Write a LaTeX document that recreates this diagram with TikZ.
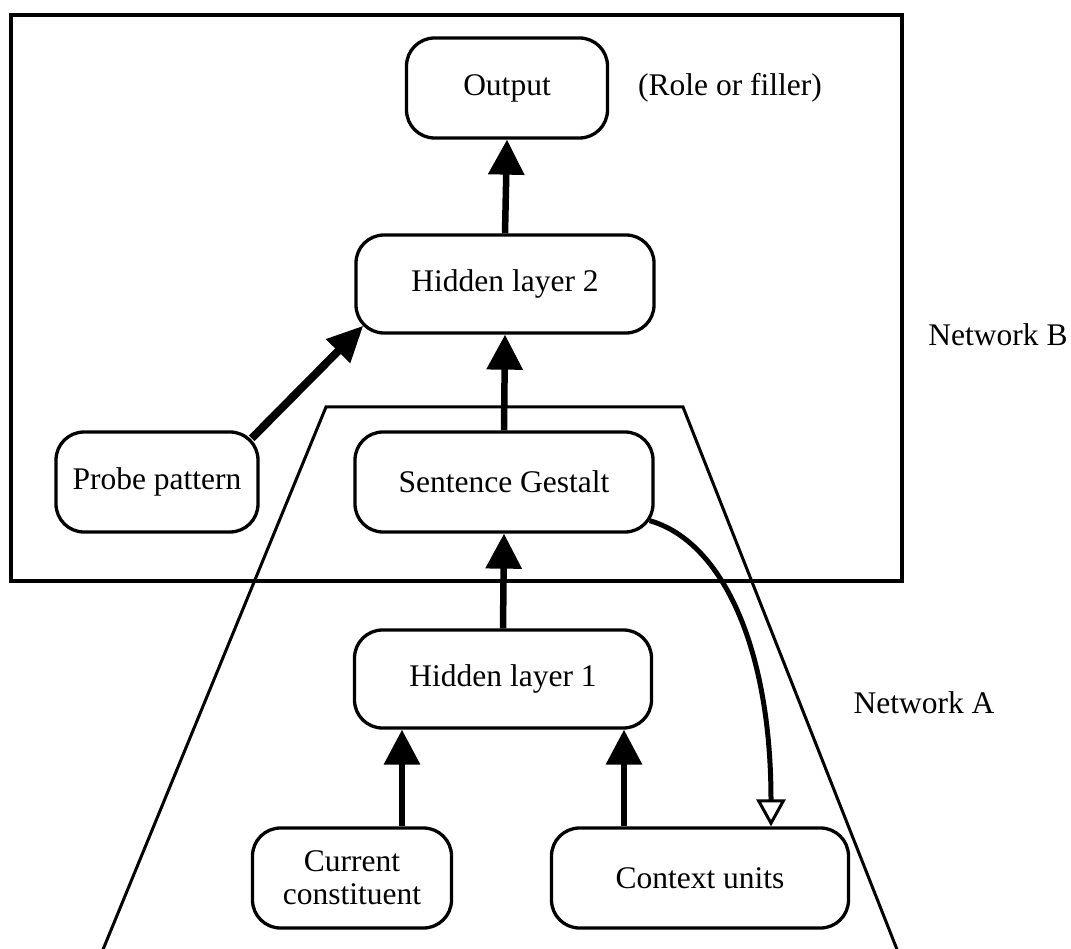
\documentclass[tikz,border=0pt]{standalone}
\usepackage{fontspec}
\setmainfont{Liberation Serif}
\usetikzlibrary{arrows.meta}
\tikzset{
  unit/.style={draw, line width=3.3pt, rounded corners=28pt, fill=white,
    inner sep=0pt, align=center},
  fwd/.style={line width=6.5pt, -{Triangle[width=35pt,length=35pt]}},
  probearrow/.style={line width=8pt, -{Triangle[width=32pt,length=36pt]}},
  recur/.style={line width=5pt,
    -{Triangle[open,width=29pt,length=27pt,line width=3pt]}},
  frame/.style={draw, line width=3.4pt},
  netlabel/.style={inner sep=0pt},
}
\begin{document}
\begin{tikzpicture}[x=1pt, y=-1pt, font=\fontsize{31.5}{33}\selectfont]
  \useasboundingbox (0,0) rectangle (1071,949);
  \clip (0,0) rectangle (1071,949);

  % Network B enclosure
  \draw[frame] (11,15) rectangle (902,581);
  % Network A enclosure (trapezoid running off the bottom)
  \draw[frame, line width=3pt, line join=miter]
    (102,952) -- (326,407) -- (683,407) -- (898,952);

  % Units
  \node[unit, minimum width=201pt, minimum height=100pt] (out)   at (507,88)  {Output};
  \node[unit, minimum width=298pt, minimum height=98pt]  (hl2)   at (505,284) {Hidden layer 2};
  \node[unit, minimum width=298pt, minimum height=100pt] (sg)    at (504,482) {Sentence Gestalt};
  \node[unit, minimum width=202pt, minimum height=100pt] (probe) at (157,482) {Probe pattern};
  \node[unit, minimum width=297pt, minimum height=98pt]  (hl1)   at (503,679) {Hidden layer 1};
  \node[unit, minimum width=199pt, minimum height=100pt] (cur)   at (352,878) {Current\\constituent};
  \node[unit, minimum width=297pt, minimum height=100pt] (ctx)   at (700,878) {Context units};

  % Labels
  \node[netlabel] (role) at (730,88)  {(Role or filler)};
  \node[netlabel] (netB) at (998,335) {Network B};
  \node[netlabel] (netA) at (924,703) {Network A};

  % Feed-forward connections
  \draw[fwd] (hl2.north) -- (out.south);
  \draw[fwd] (sg.north) -- (hl2.south);
  \draw[fwd] (hl1.north) -- (sg.south);
  \draw[fwd] ([xshift=50pt]cur.north) -- ([xshift=50pt]cur.north |- hl1.south);
  \draw[fwd] ([xshift=-76pt]ctx.north) -- ([xshift=-76pt]ctx.north |- hl1.south);
  \draw[probearrow] ([xshift=-8pt,yshift=-8pt]probe.north east)
    -- ([xshift=9pt,yshift=9pt]hl2.south west);

  % Copy-back from the Sentence Gestalt to the context units
  \draw[recur] ([xshift=-5pt,yshift=13pt]sg.south east)
    .. controls +(73,21) and +(0,-178) .. ([xshift=71pt]ctx.north);
\end{tikzpicture}
\end{document}
